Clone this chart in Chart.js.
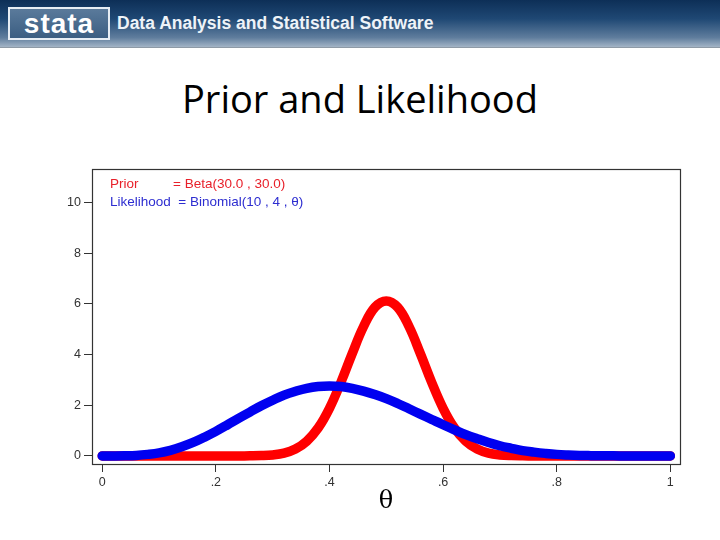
<!DOCTYPE html>
<html>
<head>
<meta charset="utf-8">
<script src="https://cdn.jsdelivr.net/npm/chart.js@4"></script>
<style>
body{margin:0;width:720px;height:540px;background:#fff;overflow:hidden;position:relative;font-family:"Liberation Sans",Arial,sans-serif}
#banner{position:absolute;left:0;top:0;width:720px;height:47px;
background:linear-gradient(180deg,#0d2f57 0%,#1f4874 40%,#5f7d9d 80%,#a3b4c6 100%);
border-bottom:1px solid #8e9aa6}
#logo{position:absolute;left:8px;top:7px;width:98px;height:29px;border:2px solid #e6edf4;
background:linear-gradient(180deg,#5a7a9b,#3b5e82);color:#fff;font:bold 28px "Liberation Sans",Arial,sans-serif;
line-height:29px;text-align:center;letter-spacing:1px}
#tag{position:absolute;left:117px;top:13px;color:#eef3f8;font:bold 17.5px "Liberation Sans",Arial,sans-serif}
#title{position:absolute;left:0;top:72px;width:720px;text-align:center;font:38px "Open Sans",sans-serif;color:#000}
#wrap{position:absolute;left:0;top:150px;width:720px;height:390px}
</style>
</head>
<body>
<div id="banner"><div id="logo">stata</div><div id="tag">Data Analysis and Statistical Software</div></div>
<div id="title">Prior and Likelihood</div>
<div id="wrap"><canvas id="c"></canvas></div>
<script>
// values
const theta = [0,.02,.04,.06,.08,.10,.12,.14,.16,.18,.20,.22,.24,.26,.28,.30,.32,.34,.36,.38,.40,.42,.44,.46,.48,.50,
.52,.54,.56,.58,.60,.62,.64,.66,.68,.70,.72,.74,.76,.78,.80,.82,.84,.86,.88,.90,.92,.94,.96,.98,1]
const prior = [0,0,0,0,0,0,0,0,0,0,0,0,0,0.003,0.012,0.039,0.11,0.27,0.58,1.10,1.88,2.90,4.04,5.11,5.87,6.12,
5.87,5.11,4.04,2.90,1.88,1.10,0.58,0.27,0.11,0.039,0.012,0.003,0,0,0,0,0,0,0,0,0,0,0,0,0]
const likelihood = [0,0,0.005,0.02,0.06,0.12,0.22,0.36,0.53,0.74,0.97,1.22,1.48,1.73,1.98,2.20,2.40,2.55,2.67,2.74,2.76,
2.74,2.67,2.56,2.42,2.26,2.07,1.86,1.65,1.44,1.23,1.03,0.84,0.68,0.53,0.40,0.30,0.21,0.15,0.10,0.06,0.036,0.019,0.01,0.004,0.0015,0,0,0,0,0]
const xTicks = [0,.2,.4,.6,.8,1]
const yTicks = [0,2,4,6,8,10]

const pts = ys => theta.map((t,i)=>({x:t,y:ys[i]}))

const frame = {
id:"frame",
afterDraw(chart){
const a = chart.chartArea, ctx = chart.ctx
ctx.save()
ctx.strokeStyle="#333"
ctx.lineWidth=1.2
ctx.strokeRect(a.left+0.5,a.top+0.5,a.right-a.left,a.bottom-a.top)
ctx.font='13.5px "Liberation Sans",Arial,sans-serif'
ctx.textBaseline="middle"
ctx.fillStyle="#e8202a"
ctx.fillText("Prior",a.left+18,a.top+15)
ctx.fillText("= Beta(30.0 , 30.0)",a.left+81,a.top+15)
ctx.fillStyle="#2d2dd0"
ctx.fillText("Likelihood  = Binomial(10 , 4 , \u03b8)",a.left+18,a.top+33)
ctx.restore()
}
}

new Chart(document.getElementById("c"),{
type:"line",
data:{
datasets:[
{label:"Likelihood",data:pts(likelihood),borderColor:"#0000f0",borderWidth:9.5,pointRadius:0,
tension:0.4,borderCapStyle:"round",borderJoinStyle:"round",order:1},
{label:"Prior",data:pts(prior),borderColor:"#ff0000",borderWidth:9.5,pointRadius:0,
tension:0.4,borderCapStyle:"round",borderJoinStyle:"round",order:2}
]
},
options:{
responsive:true,
maintainAspectRatio:false,
animation:false,
layout:{padding:{top:19,right:40,left:0,bottom:24}},
plugins:{legend:{display:false},tooltip:{enabled:false}},
scales:{
x:{type:"linear",min:-0.018,max:1.017,
afterBuildTicks:s=>{s.ticks=xTicks.map(v=>({value:v}))},
afterFit:s=>{s.height=52},
grid:{drawOnChartArea:false,tickLength:8,color:"#333"},
border:{display:false},
ticks:{color:"#333",font:{size:12.5,family:'"Liberation Sans",Arial'},padding:3,maxRotation:0,
callback:v=>String(v).replace(/^0\./,".")},
title:{display:true,text:"\u03b8",color:"#000",font:{size:24,family:'"DejaVu Serif",serif'},padding:{top:0,bottom:0}}
},
y:{min:-0.32,max:11.33,
afterBuildTicks:s=>{s.ticks=yTicks.map(v=>({value:v}))},
afterFit:s=>{s.width=92},
grid:{drawOnChartArea:false,tickLength:8,color:"#333"},
border:{display:false},
ticks:{color:"#333",font:{size:12.5,family:'"Liberation Sans",Arial'},padding:3}
}
}
},
plugins:[frame]
})
</script>
</body>
</html>
